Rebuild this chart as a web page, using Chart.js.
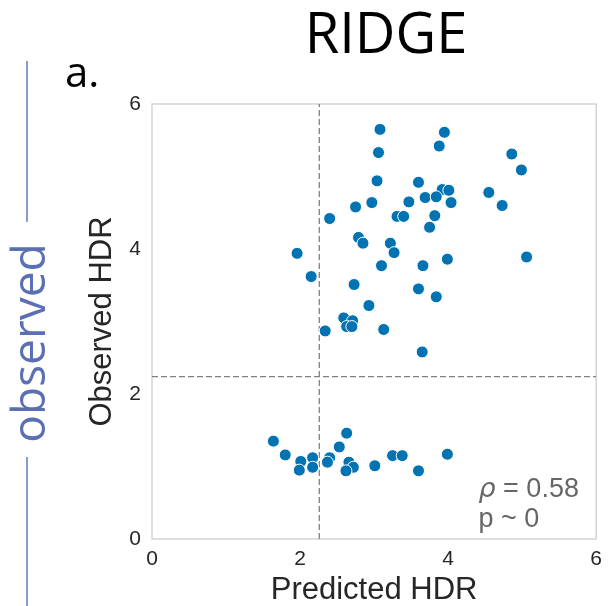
<!DOCTYPE html>
<html>
<head>
<meta charset="utf-8">
<script src="https://cdn.jsdelivr.net/npm/chart.js@4/dist/chart.umd.min.js"></script>
<style>
  html, body { margin: 0; padding: 0; background: #ffffff; }
  #wrap { position: relative; width: 610px; height: 606px; }
</style>
</head>
<body>
<div id="wrap"><canvas id="c"></canvas></div>
<script>
// ---- data ----
const predictedHDR = [
  2.75, 2.40, 2.79, 2.85, 1.96, 2.15, 2.73, 2.93, 2.59, 2.71, 2.63, 2.70, 2.34, 3.13, 3.65,
  3.08, 3.95, 3.06, 3.88, 4.86, 4.99, 3.04, 3.60, 3.92, 4.01, 4.55, 2.97, 3.47, 3.69, 3.84,
  4.04, 4.73, 3.31, 3.40, 3.82, 3.75, 3.22, 3.27, 3.10, 3.66, 3.99, 5.06, 3.60, 3.84,
  1.64, 1.80, 2.01, 1.99, 2.17, 2.17, 2.40, 2.37, 2.53, 2.63, 2.66, 2.72, 2.62, 3.01, 3.25,
  3.38, 3.60, 3.99
];
const observedHDR = [
  4.58, 4.42, 4.16, 4.08, 3.94, 3.62, 3.51, 3.22, 3.05, 3.01, 2.93, 2.93, 2.87, 2.89, 2.58,
  5.65, 5.61, 5.33, 5.42, 5.31, 5.09, 4.94, 4.92, 4.82, 4.81, 4.78, 4.64, 4.65, 4.71, 4.72,
  4.64, 4.60, 4.45, 4.45, 4.46, 4.30, 4.08, 3.95, 3.77, 3.77, 3.86, 3.89, 3.45, 3.34,
  1.35, 1.16, 1.07, 0.95, 1.12, 0.99, 1.12, 1.06, 1.27, 1.46, 1.06, 0.99, 0.94, 1.01, 1.15,
  1.15, 0.94, 1.17
];
const thresholdX = 2.26;
const thresholdY = 2.24;
const axisMin = 0;
const axisMax = 6;
const tickStep = 2;
const titleText = "RIDGE";
const panelLabel = "a.";
const sideLabel = "observed";
const rhoText = "0.58";
const pText = "p ~ 0";
const xTitle = "Predicted HDR";
const yTitle = "Observed HDR";

const points = predictedHDR.map((x, i) => ({ x: x, y: observedHDR[i] }));

const decorPlugin = {
  id: 'decor',
  beforeDatasetsDraw(chart) {
    const ctx = chart.ctx;
    const a = chart.chartArea;
    ctx.save();
    ctx.strokeStyle = '#cccccc';
    ctx.lineWidth = 1.25;
    ctx.strokeRect(a.left, a.top, a.right - a.left, a.bottom - a.top);
    ctx.restore();
  },
  afterDraw(chart) {
    const ctx = chart.ctx;
    const a = chart.chartArea;
    ctx.save();
    // title
    ctx.fillStyle = '#000000';
    ctx.font = '56px "Open Sans"';
    ctx.textAlign = 'center';
    ctx.textBaseline = 'alphabetic';
    ctx.fillText(titleText, 386, 53);
    // panel label
    ctx.textAlign = 'left';
    ctx.font = '42px "Open Sans"';
    ctx.fillText(panelLabel, 65, 87);
    // side label
    ctx.save();
    ctx.translate(45, 343);
    ctx.rotate(-Math.PI / 2);
    ctx.fillStyle = '#5b6fb3';
    ctx.font = '46px "Open Sans"';
    ctx.textAlign = 'center';
    ctx.fillText(sideLabel, 0, 0);
    ctx.restore();
    ctx.strokeStyle = '#6f83c0';
    ctx.lineWidth = 1.6;
    ctx.beginPath();
    ctx.moveTo(27, 61); ctx.lineTo(27, 222);
    ctx.moveTo(27, 457); ctx.lineTo(27, 606);
    ctx.stroke();
    // annotation
    ctx.fillStyle = '#666666';
    const ax = a.left + (a.right - a.left) * 0.735;
    ctx.textAlign = 'left';
    ctx.font = 'italic 27px "DejaVu Sans"';
    ctx.fillText('\u03C1', ax, 497);
    const rw = ctx.measureText('\u03C1').width;
    ctx.font = '27px "Liberation Sans"';
    ctx.fillText(' = ' + rhoText, ax + rw, 497);
    ctx.fillText(pText, ax, 527);
    ctx.restore();
  }
};

new Chart(document.getElementById('c'), {
  type: 'scatter',
  data: {
    datasets: [
      {
        type: 'line',
        data: [{ x: thresholdX, y: axisMin }, { x: thresholdX, y: axisMax }],
        borderColor: '#808080',
        borderWidth: 1.3,
        borderDash: [6, 3],
        pointRadius: 0,
        fill: false,
        order: 2
      },
      {
        type: 'line',
        data: [{ x: axisMin, y: thresholdY }, { x: axisMax, y: thresholdY }],
        borderColor: '#808080',
        borderWidth: 1.3,
        borderDash: [6, 3],
        pointRadius: 0,
        fill: false,
        order: 2
      },
      {
        data: points,
        backgroundColor: '#0173b2',
        borderColor: '#ffffff',
        borderWidth: 1,
        pointRadius: 6,
        order: 1
      }
    ]
  },
  options: {
    responsive: true,
    maintainAspectRatio: false,
    animation: false,
    layout: { padding: { left: 87, right: 12, top: 104, bottom: 0 } },
    plugins: { legend: { display: false }, tooltip: { enabled: false } },
    scales: {
      x: {
        type: 'linear',
        min: axisMin, max: axisMax,
        grid: { display: false, drawTicks: false },
        border: { display: false },
        ticks: { stepSize: tickStep, padding: 8, color: '#262626', font: { family: 'Liberation Sans', size: 21 } },
        title: { display: true, text: xTitle, color: '#262626', padding: 0, font: { family: 'Liberation Sans', size: 31, lineHeight: 1 } },
        afterFit(s) { s.height = 67; }
      },
      y: {
        type: 'linear',
        min: axisMin, max: axisMax,
        grid: { display: false, drawTicks: false },
        border: { display: false },
        ticks: { stepSize: tickStep, padding: 11, color: '#262626', font: { family: 'Liberation Sans', size: 21 } },
        title: { display: true, text: yTitle, color: '#262626', padding: 0, font: { family: 'Liberation Sans', size: 31, lineHeight: 1 } },
        afterFit(s) { s.width = 65; }
      }
    }
  },
  plugins: [decorPlugin]
});
</script>
</body>
</html>
